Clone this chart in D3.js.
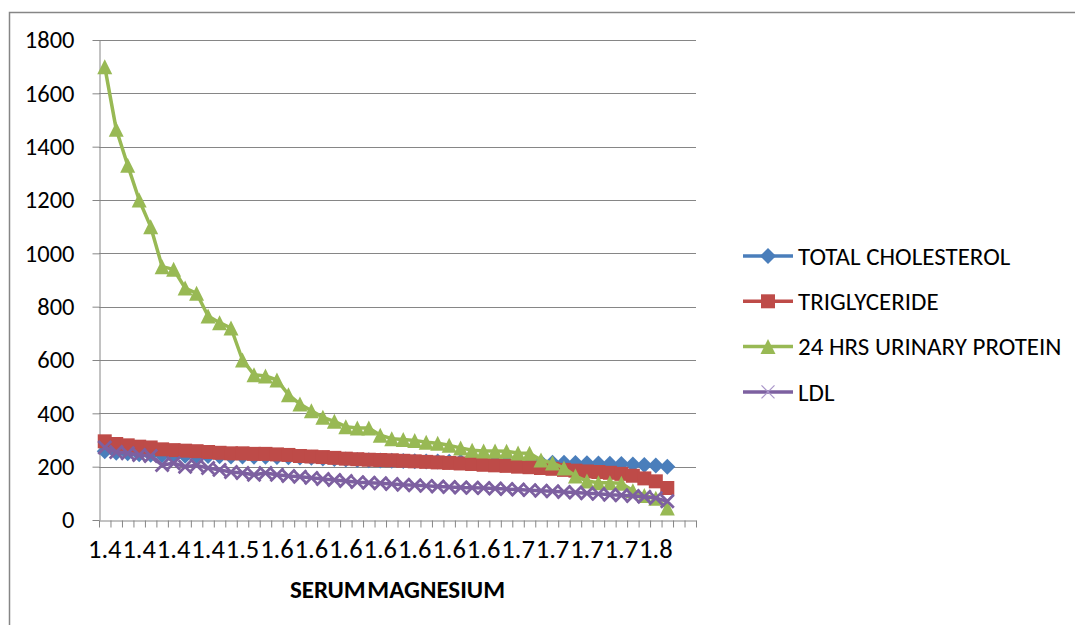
<!DOCTYPE html>
<html>
<head>
<meta charset="utf-8">
<script src="https://cdn.jsdelivr.net/npm/d3@7"></script>
<style>
  body { margin: 0; background: #fff; }
  svg text { font-family: Calibri, Carlito, "Open Sans", sans-serif; fill: #000; }
</style>
</head>
<body>
<div id="chart"></div>
<script>
// serum magnesium categories (only every 3rd label is drawn, as in the original)
const magnesium = [
  "1.4","1.4","1.4","1.4","1.4","1.4","1.4","1.4","1.4","1.4","1.4","1.4",
  "1.5","1.5","1.5",
  "1.6","1.6","1.6","1.6","1.6","1.6","1.6","1.6","1.6","1.6","1.6","1.6","1.6","1.6","1.6","1.6","1.6","1.6","1.6","1.6","1.6",
  "1.7","1.7","1.7","1.7","1.7","1.7","1.7","1.7","1.7","1.7","1.7","1.7",
  "1.8","1.8","1.8","1.8"
];
const total_cholesterol = [258,252,250,247,245,243,242,241,240,240,239,238,238,237,237,236,235,234,233,231,
  229,227,225,224,223,222,221,220,219,219,218,218,218,217,217,217,216,216,216,215,
  215,214,213,212,211,210,208,206,204,200];
const triglyceride = [295,285,280,275,272,265,262,260,258,255,252,250,250,248,248,246,244,240,238,236,
  233,230,228,226,225,224,222,220,218,216,214,212,210,207,205,203,200,198,195,192,
  188,185,182,180,177,173,166,156,145,120];
const urinary_protein = [1700,1465,1330,1200,1100,950,940,870,850,765,740,720,600,545,540,525,470,435,410,385,
  370,350,345,345,318,305,302,298,292,288,280,270,262,259,259,258,251,250,225,214,
  195,165,146,140,140,138,110,92,82,45];
const ldl = [272,255,250,244,240,206,213,200,205,195,188,180,176,170,176,170,165,162,158,154,
  150,146,142,140,138,135,132,130,128,126,124,122,121,120,118,116,114,112,110,108,
  105,103,100,98,95,93,90,87,82,70];
const y_ticks = [0,200,400,600,800,1000,1200,1400,1600,1800];
const series_names = ["TOTAL CHOLESTEROL","TRIGLYCERIDE","24 HRS URINARY PROTEIN","LDL"];
const series_colors = ["#4A7EBB","#BE4B48","#98B954","#7D60A0"];

const W = 1075, H = 625;
const plot = { left: 99, right: 696, top: 40, bottom: 520 };

const svg = d3.select('#chart').append('svg')
  .attr('width', W).attr('height', H);

// outer chart border
svg.append('rect')
  .attr('x', 9.5).attr('y', 12.5)
  .attr('width', W + 20).attr('height', H + 20)
  .attr('fill', 'none').attr('stroke', '#868686').attr('stroke-width', 1.5);

const x_scale = d3.scaleBand()
  .domain(d3.range(magnesium.length))
  .range([plot.left, plot.right]);
const x_edge = d3.scaleLinear()
  .domain([0, magnesium.length])
  .range([plot.left, plot.right]);
const y_scale = d3.scaleLinear()
  .domain([0, 1800])
  .range([plot.bottom, plot.top]);

// gridlines
svg.append('g')
  .selectAll('line')
  .data(y_ticks.filter(d => d > 0))
  .join('line')
    .attr('x1', plot.left).attr('x2', plot.right)
    .attr('y1', d => Math.round(y_scale(d)) + 0.5)
    .attr('y2', d => Math.round(y_scale(d)) + 0.5)
    .attr('stroke', '#868686').attr('stroke-width', 1);

// y axis
const y_axis = svg.append('g')
  .attr('transform', `translate(${plot.left + 0.5},0)`)
  .call(d3.axisLeft(y_scale).tickValues(y_ticks).tickFormat(d3.format('d'))
    .tickSize(7).tickPadding(18).tickSizeOuter(0));
y_axis.selectAll('text').style('font-size', '24.5px');

// x axis: tick marks at category edges
svg.append('g')
  .attr('transform', `translate(0,${plot.bottom + 0.5})`)
  .call(d3.axisBottom(x_edge).tickValues(d3.range(magnesium.length + 1)).tickSize(7).tickFormat('').tickSizeOuter(0));
// x labels at category centres, every third
const x_labels = svg.append('g')
  .attr('transform', `translate(0,${plot.bottom + 0.5})`)
  .call(d3.axisBottom(x_scale)
    .tickValues(d3.range(0, magnesium.length, 3).filter(i => i < 50))
    .tickFormat(i => magnesium[i]).tickSize(0).tickPadding(19));
x_labels.select('.domain').remove();
x_labels.selectAll('text').style('font-size', '26.5px');

svg.selectAll('.domain, .tick line').attr('stroke', '#868686');

// axis title
svg.append('text')
  .attr('x', (plot.left + plot.right) / 2)
  .attr('y', 598)
  .attr('text-anchor', 'middle')
  .style('font-size', '25px').style('font-weight', 'bold')
  .style('word-spacing', '-4px')
  .text('SERUM MAGNESIUM');

// marker shapes
const triangle = { draw(ctx, s) { const r = Math.sqrt(s) / 2; ctx.moveTo(0, -r); ctx.lineTo(r, r); ctx.lineTo(-r, r); ctx.closePath(); } };
const diamond = { draw(ctx, s) { const r = Math.sqrt(s) / 2; ctx.moveTo(0, -r); ctx.lineTo(r, 0); ctx.lineTo(0, r); ctx.lineTo(-r, 0); ctx.closePath(); } };
const cross = { draw(ctx, s) { const r = Math.sqrt(s) / 2; ctx.moveTo(-r, -r); ctx.lineTo(r, r); ctx.moveTo(r, -r); ctx.lineTo(-r, r); } };
const markers = [
  { type: diamond, size: 16 * 16, fill: true },
  { type: d3.symbolSquare, size: 14 * 14, fill: true },
  { type: triangle, size: 15 * 15, fill: true },
  { type: cross, size: 13 * 13, fill: false }
];

const all_series = [total_cholesterol, triglyceride, urinary_protein, ldl];
const line = d3.line()
  .x((d, i) => x_scale(i) + x_scale.bandwidth() / 2)
  .y(d => y_scale(d));

all_series.forEach((values, k) => {
  const g = svg.append('g').attr('class', 'series');
  g.append('path')
    .datum(values)
    .attr('d', line)
    .attr('fill', 'none')
    .attr('stroke', series_colors[k])
    .attr('stroke-width', 3.5)
    .attr('stroke-linejoin', 'round');
  g.selectAll('path.marker')
    .data(values)
    .join('path')
      .attr('class', 'marker')
      .attr('transform', (d, i) => `translate(${x_scale(i) + x_scale.bandwidth() / 2},${y_scale(d)})`)
      .attr('d', d3.symbol(markers[k].type, markers[k].size))
      .attr('fill', markers[k].fill ? series_colors[k] : 'none')
      .attr('stroke', series_colors[k])
      .attr('stroke-width', markers[k].fill ? 0 : 2.8);
});

// legend
const legend = svg.append('g');
series_names.forEach((name, k) => {
  const y = 256 + k * 45.3;
  const item = legend.append('g').attr('transform', `translate(743,${y})`);
  item.append('line')
    .attr('x1', 0).attr('x2', 50).attr('y1', 0).attr('y2', 0)
    .attr('stroke', series_colors[k]).attr('stroke-width', 3.5);
  item.append('path')
    .attr('transform', 'translate(25,0)')
    .attr('d', d3.symbol(markers[k].type, markers[k].size))
    .attr('fill', markers[k].fill ? series_colors[k] : 'none')
    .attr('stroke', markers[k].fill ? 'none' : '#A995C9')
    .attr('stroke-width', 1.2);
  item.append('text')
    .attr('x', 55).attr('y', 0).attr('dy', '0.35em')
    .style('font-size', '25px')
    .text(name);
});
</script>
</body>
</html>
